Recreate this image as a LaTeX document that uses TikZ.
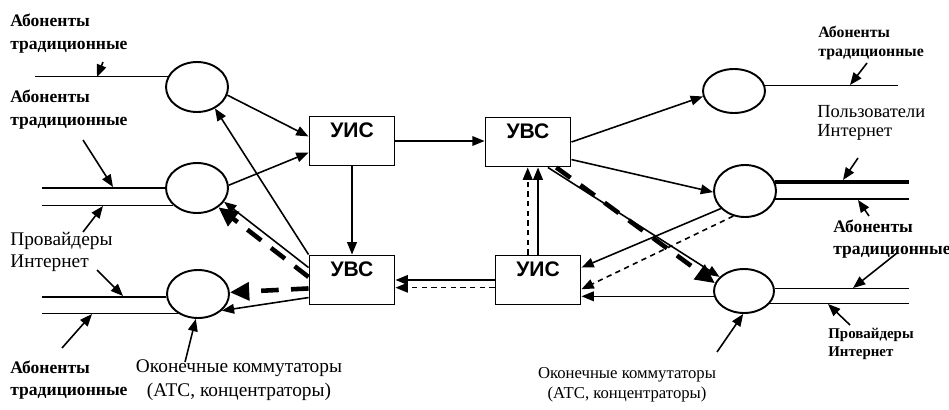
\documentclass[tikz,border=0pt]{standalone}
\usepackage{fontspec}
\setmainfont{Liberation Serif}
\setsansfont{Liberation Sans}
\usepackage{tikz}
\usetikzlibrary{shapes,arrows.meta,calc}

\begin{document}
\begin{tikzpicture}[x=0.02cm, y=-0.02cm,
    sw/.style={ellipse, draw, line width=1.1pt, minimum width=1.24cm, minimum height=1cm, inner sep=0pt},
    unit/.style={rectangle, draw, line width=1.1pt, minimum width=1.7cm, minimum height=0.98cm, inner sep=0pt, text height=8pt, text depth=12pt, font=\sffamily\bfseries\fontsize{12}{13}\selectfont},
    wire/.style={line width=0.9pt},
    thickwire/.style={line width=2.4pt},
    arrow/.style={-{Triangle[length=7pt,width=5.5pt]}, line width=0.9pt},
    dasharrow/.style={arrow, dash pattern=on 3pt off 2.5pt},
    bigarrow/.style={-{Triangle[length=11pt,width=10pt]}, line width=2.6pt, dash pattern=on 10pt off 7pt},
    ptr/.style={-{Triangle[length=7pt,width=5.5pt]}, line width=0.9pt},
    txt/.style={align=left, anchor=west, inner sep=0pt, font=\fontsize{10}{13}\selectfont},
    btxt/.style={txt, font=\bfseries\fontsize{10}{13}\selectfont}
]
\useasboundingbox (0,0) rectangle (949,409);

% end switches, left
\node[sw] (sw_l1) at (197,87) {};
\node[sw] (sw_l2) at (197,188) {};
\node[sw, minimum height=0.96cm] (sw_l3) at (198,294) {};
% end switches, right
\node[sw, minimum height=0.88cm] (sw_r1) at (734,91) {};
\node[sw, minimum height=1.04cm] (sw_r2) at (745,191) {};
\node[sw, minimum width=1.2cm, minimum height=0.88cm] (sw_r3) at (744,291) {};

% units
\node[unit] (uis_a) at (352,141) {УИС};
\node[unit] (uvs_a) at (528,142) {УВС};
\node[unit] (uvs_b) at (352,280) {УВС};
\node[unit] (uis_b) at (538,280) {УИС};

% outer ends of the subscriber lines
\coordinate (lft_a) at (35,0);
\coordinate (lft_b) at (42,0);
\coordinate (rgt_a) at (898,0);
\coordinate (rgt_b) at (909,0);

\draw[wire] (sw_l1.160) -- (sw_l1.160 -| lft_a);
\draw[wire] (sw_l2.west) -- (sw_l2.west -| lft_b);
\draw[wire] (sw_l2.216) -- (sw_l2.216 -| lft_b);
\draw[wire] (sw_l3.185) -- (sw_l3.185 -| lft_b);
\draw[wire] (sw_l3.225) -- (sw_l3.225 -| lft_b);
\draw[wire] (sw_r1.10) -- (sw_r1.10 -| rgt_a);
\draw[thickwire] (sw_r2.17) -- (sw_r2.17 -| rgt_b);
\draw[wire] (sw_r2.-15) -- (sw_r2.-15 -| rgt_b);
\draw[wire] (sw_r3.5) -- (sw_r3.5 -| rgt_b);
\draw[wire] (sw_r3.-26) -- (sw_r3.-26 -| rgt_b);

% left side
\draw[arrow] (sw_l1.-15) -- (uis_a.174);
\draw[arrow] (sw_l2.5) -- (uis_a.195);
\draw[arrow] (uvs_b.north west) -- (sw_l1.-50);
\draw[arrow] (uvs_b.164) -- (sw_l2.-27);
\draw[bigarrow] (uvs_b.176) -- (sw_l2.-42);
\draw[arrow] (uvs_b.202) -- (sw_l3.-35);
\draw[bigarrow] (uvs_b.191) -- (sw_l3.3);

% between the units
\draw[arrow] (uis_a.east) -- (uis_a.east -| uvs_a.west);
\draw[arrow] (uis_a.south) -- (uvs_b.north);
\draw[arrow] (uis_b.west) -- (uis_b.west -| uvs_b.east);
\draw[dasharrow] (uis_b.190) -- (uis_b.190 -| uvs_b.east);
\draw[arrow] (uis_b.north) -- (uis_b.north |- uvs_a.south);
\draw[dasharrow] (uis_b.112) -- (uis_b.112 |- uvs_a.south);

% right side
\draw[arrow] (uvs_a.east) -- (sw_r1.190);
\draw[arrow] (uvs_a.-22) -- (sw_r2.182);
\draw[arrow] (uvs_a.-52) -- (sw_r3.150);
\draw[bigarrow] (uvs_a.-42) -- (sw_r3.165);
\draw[arrow] (sw_r2.216) -- (uis_b.16);
\draw[dasharrow] (sw_r2.245) -- (uis_b.-12);
\draw[arrow] (sw_r3.190) -- (sw_r3.190 -| uis_b.east);

% labels
\node[btxt] (lab_a1) at (10,34) {Абоненты\\традиционные};
\node[btxt] (lab_a2) at (10,110) {Абоненты\\традиционные};
\node[txt, font=\fontsize{11}{13}\selectfont] (lab_p1) at (10,252) {Провайдеры\\Интернет};
\node[btxt] (lab_a3) at (10,380) {Абоненты\\традиционные};
\node[align=center, inner sep=0pt, font=\fontsize{11}{13.5}\selectfont] (lab_o1) at (239,380) {Оконечные коммутаторы\\(АТС, концентраторы)};
\node[btxt, font=\bfseries\fontsize{9}{11}\selectfont] (lab_a4) at (818,43) {Абоненты\\традиционные};
\node[txt, font=\fontsize{10.5}{11}\selectfont] (lab_u) at (817,123) {Пользователи\\Интернет};
\node[btxt, font=\bfseries\fontsize{10}{12.5}\selectfont] (lab_a5) at (833,239) {Абоненты\\традиционные};
\node[btxt, font=\bfseries\fontsize{8.5}{10}\selectfont] (lab_p2) at (828,344) {Провайдеры\\Интернет};
\node[align=center, inner sep=0pt, font=\fontsize{9.5}{11.5}\selectfont] (lab_o2) at (627,385) {Оконечные коммутаторы\\(АТС, концентраторы)};

% pointers from the labels
\coordinate (p_a1) at (103,62);  \coordinate (p_a2) at (97,77);
\coordinate (p_b1) at (83,140);  \coordinate (p_b2) at (113,187);
\coordinate (p_c1) at (83,232);  \coordinate (p_c2) at (103,206);
\coordinate (p_d1) at (97,270);  \coordinate (p_d2) at (123,296);
\coordinate (p_e1) at (62,348);  \coordinate (p_e2) at (92,314);
\coordinate (p_f1) at (185,362);
\coordinate (p_g1) at (867,63);  \coordinate (p_g2) at (850,85);
\coordinate (p_h1) at (858,158); \coordinate (p_h2) at (843,180);
\coordinate (p_i1) at (869,216); \coordinate (p_i2) at (858,200);
\coordinate (p_j1) at (897,253); \coordinate (p_j2) at (853,288);
\coordinate (p_k1) at (850,325); \coordinate (p_k2) at (828,304);
\coordinate (p_l1) at (717,352);

\draw[ptr] (p_a1) -- (p_a2);
\draw[ptr] (p_b1) -- (p_b2);
\draw[ptr] (p_c1) -- (p_c2);
\draw[ptr] (p_d1) -- (p_d2);
\draw[ptr] (p_e1) -- (p_e2);
\draw[ptr] (p_f1) -- (sw_l3.-95);
\draw[ptr] (p_g1) -- (p_g2);
\draw[ptr] (p_h1) -- (p_h2);
\draw[ptr] (p_i1) -- (p_i2);
\draw[ptr] (p_j1) -- (p_j2);
\draw[ptr] (p_k1) -- (p_k2);
\draw[ptr] (p_l1) -- (sw_r3.-92);
\end{tikzpicture}
\end{document}
